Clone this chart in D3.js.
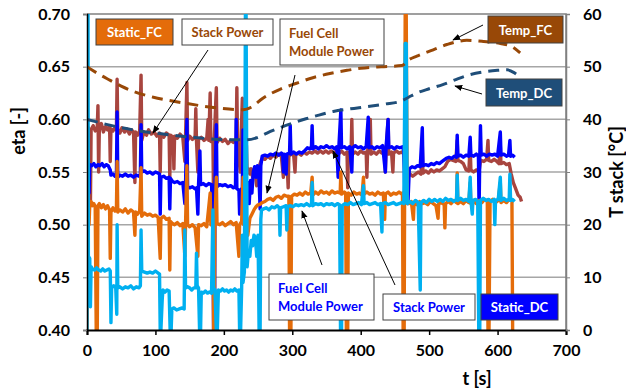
<!DOCTYPE html>
<html>
<head>
<meta charset="utf-8">
<script src="https://cdn.jsdelivr.net/npm/d3@7"></script>
<style>
  html, body { margin: 0; padding: 0; background: #fff; }
  svg { display: block; font-family: Lato, "Open Sans", sans-serif; }
</style>
</head>
<body>
<svg id="chart" width="626" height="391"></svg>
<script>
// ---- axis ticks ----
const etaTicks = [0.40, 0.45, 0.50, 0.55, 0.60, 0.65, 0.70];
const tempTicks = [0, 10, 20, 30, 40, 50, 60];
const timeTicks = [0, 100, 200, 300, 400, 500, 600, 700];

// ---- efficiency series [t (s), eta] ----
const stackPowerFC = [
  [1,0.56],[2,0.592],[4,0.588],[5,0.52],[6,0.59],[9,0.594],[12,0.589],[15,0.592],[16,0.613],[17,0.55],[18,0.59],
  [21,0.596],[24,0.588],[27,0.593],[30,0.59],[33,0.594],[34,0.56],[35,0.591],[38,0.589],[41,0.592],[43,0.59],
  [44,0.638],[45,0.59],[48,0.587],[51,0.592],[55,0.588],[58,0.591],[62,0.586],[65,0.59],[68,0.588],[70,0.54],
  [71,0.588],[74,0.585],[77,0.589],[79,0.642],[80,0.58],[83,0.588],[87,0.585],[90,0.59],[94,0.586],[98,0.588],
  [102,0.584],[106,0.587],[107,0.55],[108,0.586],[112,0.583],[116,0.587],[120,0.585],[121,0.545],[122,0.585],
  [126,0.583],[127,0.553],[128,0.584],[132,0.582],[136,0.586],[140,0.583],[143,0.56],[144,0.583],[146,0.635],
  [147,0.58],[150,0.584],[154,0.581],[158,0.583],[159,0.61],[160,0.58],[162,0.55],[163,0.581],[167,0.583],
  [171,0.58],[175,0.582],[177,0.6],[178,0.58],[180,0.625],[181,0.579],[184,0.581],[185,0.52],[186,0.58],[189,0.63],
  [190,0.578],[194,0.582],[198,0.579],[202,0.581],[206,0.577],[210,0.58],[214,0.578],[218,0.581],[219,0.63],
  [220,0.577],[224,0.55],[225,0.578],[227,0.62],[228,0.576],[231,0.578],[233,0.575],[234,0.55],[236,0.553],
  [238,0.548],[240,0.553],[242,0.545],[244,0.552],[246,0.548],[248,0.537],[250,0.55],[252,0.556],[254,0.56],
  [256,0.563],[260,0.562],[264,0.565],[268,0.563],[272,0.566],[276,0.564],[280,0.567],[284,0.565],[287,0.545],
  [288,0.566],[292,0.564],[294,0.535],[295,0.565],[298,0.567],[302,0.566],[304,0.55],[305,0.567],[309,0.568],
  [313,0.566],[317,0.569],[321,0.567],[325,0.569],[329,0.568],[333,0.57],[337,0.568],[341,0.57],[345,0.568],
  [349,0.57],[353,0.568],[357,0.57],[361,0.568],[365,0.57],[369,0.568],[372,0.57],[376,0.567],[380,0.569],
  [381,0.535],[382,0.568],[386,0.57],[387,0.60],[388,0.567],[392,0.569],[396,0.567],[400,0.57],[404,0.568],
  [408,0.569],[409,0.545],[410,0.568],[414,0.60],[415,0.567],[419,0.569],[423,0.567],[427,0.57],[431,0.568],
  [435,0.569],[436,0.55],[437,0.568],[440,0.60],[441,0.567],[445,0.569],[447,0.55],[448,0.568],[452,0.57],
  [456,0.568],[460,0.569],[463,0.567],[465,0.54],[468,0.545],[472,0.548],[476,0.546],[480,0.548],[484,0.55],
  [488,0.548],[490,0.575],[491,0.549],[495,0.551],[499,0.549],[503,0.552],[507,0.55],[511,0.552],[515,0.551],
  [519,0.553],[523,0.555],[527,0.56],[531,0.562],[535,0.561],[539,0.56],[541,0.58],[542,0.561],[546,0.56],
  [550,0.558],[554,0.552],[558,0.551],[560,0.575],[561,0.552],[565,0.55],[569,0.552],[573,0.551],[575,0.56],
  [576,0.561],[580,0.56],[584,0.562],[586,0.58],[587,0.561],[591,0.56],[595,0.562],[599,0.56],[602,0.558],
  [604,0.575],[605,0.558],[609,0.559],[613,0.557],[617,0.558],[620,0.548],[623,0.54],[626,0.535],[630,0.528],
  [633,0.526],[635,0.522]
];

const stackPowerDC = [
  [0.5,0.50],[1.5,0.556],[3,0.53],[4,0.557],[7,0.556],[10,0.558],[13,0.555],[16,0.557],[19,0.556],[22,0.558],
  [25,0.555],[28,0.557],[31,0.556],[34,0.552],[35,0.547],[38,0.548],[41,0.546],[43,0.547],[44,0.607],[45,0.545],
  [48,0.547],[52,0.546],[56,0.548],[60,0.546],[64,0.547],[68,0.545],[72,0.547],[76,0.546],[78,0.548],[79,0.595],
  [80,0.55],[84,0.551],[88,0.549],[92,0.55],[96,0.548],[100,0.55],[104,0.549],[106,0.548],[107,0.51],[108,0.545],
  [112,0.546],[116,0.544],[120,0.545],[121,0.515],[122,0.544],[125,0.541],[128,0.54],[132,0.541],[136,0.539],
  [140,0.54],[143,0.52],[144,0.538],[146,0.60],[147,0.536],[150,0.535],[154,0.536],[158,0.534],[160,0.535],
  [162,0.51],[163,0.538],[165,0.57],[166,0.538],[170,0.539],[174,0.537],[178,0.539],[182,0.538],[184,0.50],
  [185,0.40],[186.5,0.40],[187,0.537],[189,0.595],[190,0.536],[194,0.538],[198,0.537],[202,0.538],[206,0.536],
  [210,0.537],[214,0.535],[217,0.536],[218,0.60],[219,0.534],[222,0.533],[223,0.51],[224,0.532],[227,0.535],
  [228,0.59],[229,0.53],[231,0.531],[233,0.525],[235,0.54],[237,0.52],[239,0.542],[241,0.53],[243,0.55],
  [245,0.555],[247,0.545],[249,0.556],[251,0.55],[253,0.515],[254,0.556],[256,0.565],[260,0.566],[264,0.565],
  [268,0.567],[272,0.566],[276,0.568],[280,0.566],[284,0.568],[286,0.567],[287,0.55],[288,0.567],[290,0.566],
  [291,0.548],[292,0.567],[296,0.568],[297,0.594],[298,0.567],[302,0.569],[306,0.567],[310,0.569],[314,0.568],
  [318,0.57],[322,0.573],[326,0.572],[328,0.574],[329,0.594],[330,0.572],[334,0.574],[338,0.572],[342,0.574],
  [346,0.573],[350,0.575],[354,0.573],[358,0.574],[362,0.572],[365,0.574],[367,0.545],[368,0.573],[371,0.609],
  [372,0.573],[376,0.574],[380,0.572],[384,0.574],[387,0.55],[388,0.573],[392,0.575],[396,0.573],[400,0.574],
  [404,0.572],[408,0.574],[411,0.602],[412,0.573],[416,0.574],[420,0.572],[424,0.574],[428,0.573],[432,0.575],
  [436,0.55],[437,0.573],[440,0.60],[441,0.573],[445,0.574],[449,0.572],[453,0.574],[457,0.573],[461,0.574],
  [463,0.57],[465,0.52],[467,0.53],[469,0.52],[471,0.553],[475,0.555],[479,0.554],[483,0.556],[487,0.555],
  [490,0.592],[491,0.556],[495,0.557],[499,0.556],[503,0.558],[507,0.557],[511,0.559],[515,0.558],[519,0.56],
  [521,0.561],[525,0.563],[529,0.564],[533,0.563],[537,0.565],[540,0.564],[541,0.585],[542,0.565],[546,0.566],
  [550,0.564],[554,0.566],[558,0.565],[560,0.583],[561,0.566],[565,0.565],[569,0.567],[572,0.565],[573,0.515],
  [574,0.565],[575,0.594],[576,0.566],[580,0.567],[584,0.565],[588,0.567],[592,0.566],[596,0.567],[600,0.565],
  [604,0.588],[605,0.566],[609,0.567],[613,0.565],[616,0.566],[618,0.58],[619,0.565],[622,0.566],[625,0.564]
];

const modulePowerFC = [
  [0,0.40],[0.5,0.52],[2,0.515],[3,0.50],[4,0.519],[6,0.522],[8,0.518],[10,0.52],[12,0.517],[13.5,0.40],
  [15,0.40],[16,0.518],[18,0.52],[21,0.516],[24,0.519],[27,0.515],[30,0.518],[33,0.514],[34,0.468],[35,0.512],
  [38,0.516],[41,0.513],[43,0.515],[44,0.56],[45,0.512],[48,0.514],[52,0.512],[56,0.515],[60,0.511],[64,0.514],
  [68,0.512],[70,0.49],[71,0.512],[74,0.51],[77,0.513],[79,0.554],[80,0.508],[84,0.511],[88,0.509],[92,0.51],
  [96,0.508],[100,0.509],[104,0.507],[107,0.468],[108,0.506],[112,0.508],[116,0.505],[120,0.506],[121,0.457],
  [122,0.503],[125,0.501],[128,0.50],[132,0.502],[136,0.499],[140,0.501],[143,0.47],[144,0.50],[146,0.556],
  [147,0.50],[150,0.498],[154,0.50],[158,0.497],[162,0.47],[163,0.50],[167,0.499],[171,0.501],[175,0.498],
  [180,0.53],[181,0.50],[184,0.499],[185,0.40],[186,0.40],[187,0.50],[189,0.545],[190,0.501],[194,0.50],
  [198,0.502],[202,0.499],[206,0.501],[210,0.503],[214,0.50],[218,0.502],[222,0.47],[223,0.50],[226,0.503],
  [228,0.545],[229,0.50],[232,0.505],[235,0.49],[238,0.506],[241,0.51],[244,0.514],[247,0.517],[250,0.519],
  [252,0.519],[256,0.521],[260,0.522],[264,0.524],[268,0.525],[272,0.523],[276,0.526],[280,0.527],[284,0.525],
  [288,0.528],[292,0.527],[295,0.527],[296,0.40],[298,0.40],[299,0.527],[303,0.529],[307,0.528],[311,0.53],
  [315,0.528],[319,0.531],[323,0.529],[327,0.53],[329,0.545],[330,0.528],[334,0.531],[338,0.529],[342,0.532],
  [346,0.53],[350,0.531],[354,0.529],[358,0.532],[362,0.53],[366,0.531],[370,0.53],[371,0.55],[372,0.529],
  [376,0.531],[378,0.53],[379,0.40],[381,0.40],[382,0.53],[386,0.528],[390,0.531],[394,0.529],[398,0.53],
  [402,0.528],[404,0.545],[405,0.529],[409,0.531],[413,0.529],[417,0.53],[421,0.528],[425,0.531],[429,0.529],
  [433,0.53],[435,0.505],[436,0.529],[440,0.531],[444,0.528],[448,0.53],[452,0.529],[456,0.531],[460,0.529],
  [461,0.53],[462,0.40],[463.5,0.40],[465,0.70],[466.5,0.70],[468,0.52],[470,0.52],[474,0.522],[477,0.505],
  [478,0.521],[482,0.519],[486,0.522],[490,0.52],[494,0.521],[498,0.519],[502,0.522],[506,0.52],[510,0.518],
  [513,0.506],[514,0.52],[518,0.521],[522,0.519],[523,0.497],[524,0.52],[528,0.522],[532,0.52],[536,0.523],
  [540,0.521],[541,0.549],[542,0.52],[546,0.522],[550,0.52],[554,0.523],[558,0.521],[560,0.54],[561,0.52],
  [565,0.522],[569,0.52],[573,0.523],[577,0.521],[581,0.524],[585,0.522],[586,0.40],[587.5,0.40],[589,0.522],
  [593,0.524],[597,0.521],[601,0.523],[604,0.54],[605,0.521],[609,0.523],[613,0.521],[617,0.524],[621,0.522],
  [622,0.40],[624,0.40]
];

const modulePowerDC = [
  [0,0.40],[0.5,0.70],[1.5,0.70],[2,0.47],[4,0.468],[5,0.422],[6,0.46],[8,0.458],[11,0.457],[14,0.459],
  [17,0.457],[20,0.456],[23,0.458],[26,0.456],[29,0.457],[32,0.458],[34,0.456],[35,0.407],[36,0.44],[39,0.442],
  [42,0.44],[43.5,0.415],[44,0.50],[45,0.44],[48,0.441],[52,0.439],[56,0.441],[60,0.44],[64,0.442],[68,0.439],
  [72,0.441],[76,0.44],[78,0.442],[79,0.495],[80,0.456],[84,0.455],[88,0.454],[92,0.455],[96,0.454],[100,0.456],
  [104,0.454],[106,0.453],[107,0.40],[108,0.40],[110,0.43],[111,0.438],[114,0.436],[117,0.438],[120,0.437],
  [121.5,0.40],[123,0.40],[124,0.42],[127,0.421],[131,0.419],[135,0.42],[139,0.421],[142,0.42],[143,0.495],
  [144,0.44],[147,0.441],[150,0.44],[153,0.438],[156,0.44],[159,0.44],[160,0.473],[161,0.442],[163,0.44],
  [164.5,0.40],[166,0.40],[167,0.436],[170,0.435],[173,0.437],[176,0.435],[179,0.436],[182,0.435],[184,0.514],
  [185,0.44],[187,0.438],[189,0.40],[190.5,0.40],[192,0.438],[195,0.437],[198,0.439],[201,0.437],[204,0.438],
  [207,0.436],[210,0.438],[213,0.437],[216,0.439],[219,0.437],[222,0.438],[223,0.40],[224.5,0.40],[226,0.44],
  [227,0.49],[228,0.445],[230,0.455],[231.5,0.70],[232.5,0.70],[234,0.46],[236,0.475],[238,0.47],[240,0.485],
  [242,0.48],[244,0.49],[246,0.488],[248,0.47],[250,0.49],[251.5,0.40],[253,0.40],[254,0.505],[255,0.514],
  [258,0.515],[262,0.516],[266,0.514],[270,0.517],[274,0.516],[278,0.518],[281,0.516],[282,0.49],[283,0.516],
  [287,0.517],[291,0.518],[292,0.495],[293,0.517],[297,0.518],[301,0.517],[305,0.519],[309,0.518],[313,0.519],
  [317,0.518],[321,0.52],[325,0.518],[328,0.519],[329,0.54],[330,0.518],[334,0.52],[338,0.519],[342,0.52],
  [346,0.518],[350,0.52],[354,0.519],[358,0.52],[362,0.518],[366,0.52],[369,0.519],[370.5,0.40],[372,0.40],
  [373,0.518],[377,0.52],[381,0.519],[385,0.521],[389,0.519],[393,0.52],[397,0.521],[401,0.519],[404,0.537],
  [405,0.52],[409,0.521],[413,0.519],[417,0.52],[421,0.521],[425,0.519],[429,0.52],[431,0.493],[432,0.52],
  [436,0.521],[440,0.519],[444,0.52],[448,0.521],[452,0.519],[456,0.52],[460,0.521],[463,0.52],[465,0.672],
  [466.5,0.672],[468,0.52],[472,0.522],[476,0.52],[480,0.523],[484,0.521],[487,0.438],[488,0.521],[492,0.523],
  [496,0.521],[500,0.524],[504,0.522],[508,0.524],[512,0.522],[516,0.524],[520,0.522],[524,0.525],[528,0.523],
  [532,0.524],[536,0.522],[540,0.524],[541,0.547],[542,0.523],[546,0.525],[550,0.523],[554,0.524],[558,0.522],
  [560,0.545],[561,0.523],[563,0.51],[564,0.523],[568,0.524],[571,0.522],[572.5,0.40],[574,0.40],[575,0.523],
  [579,0.525],[583,0.523],[587,0.524],[591,0.522],[595,0.524],[596,0.50],[597,0.523],[601,0.524],[604,0.545],
  [605,0.523],[609,0.525],[613,0.523],[617,0.524],[618,0.548],[619,0.523],[622,0.524],[625,0.522]
];

// ---- stack temperatures [t (s), °C] ----
const tempFC = [
  [0,50.0],[17,48.6],[34,47.4],[50,46.3],[68,45.3],[97,44.2],[120,43.6],[146,43.0],[170,42.5],[194,42.1],
  [228,41.8],[240,42.3],[257,44.0],[282,45.7],[305,46.8],[330,47.9],[355,48.7],[380,49.3],[400,49.7],
  [430,50.0],[460,50.2],[470,51.3],[482,52.0],[506,53.2],[526,54.2],[555,55.0],[579,54.8],[604,54.4],
  [618,54.0],[633,52.6]
];
const tempDC = [
  [0,40.0],[30,39.0],[67,38.0],[100,37.4],[146,36.7],[180,36.3],[214,36.1],[233,36.1],[248,36.5],[263,37.4],
  [280,38.3],[301,39.3],[320,40.1],[336,40.7],[360,41.5],[385,42.0],[409,42.4],[435,42.9],[458,43.4],
  [470,44.2],[482,45.0],[500,45.8],[520,46.6],[540,47.6],[555,48.3],[579,49.0],[600,49.3],[614,49.4],
  [625,48.8],[633,48.0]
];

// ---- layout ----
const svg = d3.select("#chart");
const plot = { left: 87, right: 566, top: 14, bottom: 330 };

const x = d3.scaleLinear().domain([0, 700]).range([plot.left, plot.right]);
const yEta = d3.scaleLinear().domain([0.40, 0.70]).range([plot.bottom, plot.top]);
const yTemp = d3.scaleLinear().domain([0, 60]).range([plot.bottom, plot.top]);

const colors = {
  stackFC: "#A8453F",
  stackDC: "#0000FF",
  moduleFC: "#E46C0A",
  moduleDC: "#00B0F0",
  tempFC: "#984807",
  tempDC: "#1F4E79"
};

const defs = svg.append("defs");
defs.append("clipPath").attr("id", "plot-clip")
  .append("rect")
  .attr("x", plot.left).attr("y", plot.top)
  .attr("width", plot.right - plot.left).attr("height", plot.bottom - plot.top);

defs.append("marker")
  .attr("id", "arrow")
  .attr("viewBox", "0 0 10 10")
  .attr("refX", 9).attr("refY", 5)
  .attr("markerWidth", 8).attr("markerHeight", 8)
  .attr("markerUnits", "userSpaceOnUse")
  .attr("orient", "auto")
  .append("path").attr("d", "M0,1 L10,5 L0,9 Z").attr("fill", "#000");

// horizontal gridlines
svg.append("g").selectAll("line")
  .data(etaTicks.filter(d => d > 0.40 && d < 0.70))
  .join("line")
  .attr("x1", plot.left).attr("x2", plot.right)
  .attr("y1", d => yEta(d)).attr("y2", d => yEta(d))
  .attr("stroke", "#A6A6A6").attr("stroke-width", 1.5);

// plot frame (top and right)
svg.append("path")
  .attr("d", `M${plot.left},${plot.top}H${plot.right}V${plot.bottom}`)
  .attr("fill", "none").attr("stroke", "#808080").attr("stroke-width", 1.5);

// data lines
const etaLine = d3.line().x(d => x(d[0])).y(d => yEta(d[1]));
const tempLine = d3.line().x(d => x(d[0])).y(d => yTemp(d[1])).curve(d3.curveMonotoneX);

const dataLayer = svg.append("g").attr("clip-path", "url(#plot-clip)");
[
  [stackPowerFC, colors.stackFC],
  [stackPowerDC, colors.stackDC],
  [modulePowerFC, colors.moduleFC],
  [modulePowerDC, colors.moduleDC]
].forEach(([data, color]) => {
  dataLayer.append("path")
    .datum(data)
    .attr("d", etaLine)
    .attr("fill", "none")
    .attr("stroke", color)
    .attr("stroke-width", 3.4)
    .attr("stroke-linejoin", "round");
});

[
  [tempFC, colors.tempFC],
  [tempDC, colors.tempDC]
].forEach(([data, color]) => {
  dataLayer.append("path")
    .datum(data)
    .attr("d", tempLine)
    .attr("fill", "none")
    .attr("stroke", color)
    .attr("stroke-width", 3)
    .attr("stroke-dasharray", "11,7");
});

// axes
const tickFont = g => g.selectAll("text")
  .attr("font-family", "Lato, sans-serif")
  .attr("font-weight", "bold")
  .attr("font-size", "16px")
  .attr("fill", "#000");

const xAxis = svg.append("g")
  .attr("transform", `translate(0,${plot.bottom})`)
  .call(d3.axisBottom(x).tickValues(timeTicks).tickFormat(d3.format("d")).tickSizeOuter(0).tickSize(5).tickPadding(10));
xAxis.select(".domain").attr("stroke", "#000").attr("stroke-width", 2);
xAxis.selectAll(".tick line").attr("stroke", "#000").attr("stroke-width", 1.5);
xAxis.call(tickFont);

const yAxisL = svg.append("g")
  .attr("transform", `translate(${plot.left},0)`)
  .call(d3.axisLeft(yEta).tickValues(etaTicks).tickFormat(d3.format(".2f")).tickSizeOuter(0).tickSize(4).tickPadding(13));
yAxisL.select(".domain").attr("stroke", "#000").attr("stroke-width", 1.5);
yAxisL.selectAll(".tick line").attr("stroke", "#808080");
yAxisL.call(tickFont);

const yAxisR = svg.append("g")
  .attr("transform", `translate(${plot.right},0)`)
  .call(d3.axisRight(yTemp).tickValues(tempTicks).tickFormat(d3.format("d")).tickSizeOuter(0).tickSize(4).tickPadding(13));
yAxisR.select(".domain").attr("stroke", "#808080").attr("stroke-width", 1.5);
yAxisR.selectAll(".tick line").attr("stroke", "#808080");
yAxisR.call(tickFont);

// axis titles
const titleStyle = sel => sel
  .attr("font-family", "Lato, sans-serif")
  .attr("font-weight", "bold")
  .attr("font-size", "18px")
  .attr("fill", "#000")
  .attr("text-anchor", "middle")
  .attr("dominant-baseline", "central");

svg.append("text").call(titleStyle)
  .attr("transform", "translate(18,131) rotate(-90)")
  .text("eta [-]");
svg.append("text").call(titleStyle)
  .attr("transform", "translate(616,172) rotate(-90)")
  .text("T stack [°C]");
svg.append("text").call(titleStyle)
  .attr("x", 477).attr("y", 378)
  .text("t [s]");

// annotation arrows
const arrows = [
  [[208, 50], [153, 133]],
  [[295, 75], [267, 193]],
  [[483, 25], [453, 40]],
  [[482, 94], [455, 86]],
  [[322, 265], [302, 211]],
  [[395, 285], [333, 151]]
];
svg.append("g").selectAll("line")
  .data(arrows)
  .join("line")
  .attr("x1", d => d[0][0]).attr("y1", d => d[0][1])
  .attr("x2", d => d[1][0]).attr("y2", d => d[1][1])
  .attr("stroke", "#000").attr("stroke-width", 1)
  .attr("marker-end", "url(#arrow)");

// annotation boxes
const boxes = [
  { x: 96,  y: 19,  w: 77,  h: 26, fill: colors.moduleFC, color: "#fff", lines: ["Static_FC"], anchor: "middle" },
  { x: 182, y: 19,  w: 91,  h: 26, fill: "#fff", color: colors.tempFC, lines: ["Stack Power"], anchor: "middle" },
  { x: 280, y: 19,  w: 104, h: 46, fill: "#fff", color: colors.tempFC, lines: ["Fuel Cell", "Module Power"], anchor: "start" },
  { x: 488, y: 16,  w: 75,  h: 27, fill: colors.tempFC, color: "#fff", lines: ["Temp_FC"], anchor: "middle" },
  { x: 486, y: 79,  w: 76,  h: 27, fill: colors.tempDC, color: "#fff", lines: ["Temp_DC"], anchor: "middle" },
  { x: 269, y: 274, w: 105, h: 46, fill: "#fff", color: colors.stackDC, lines: ["Fuel Cell", "Module Power"], anchor: "start" },
  { x: 383, y: 294, w: 92,  h: 26, fill: "#fff", color: colors.stackDC, lines: ["Stack Power"], anchor: "middle" },
  { x: 481, y: 294, w: 77,  h: 26, fill: colors.stackDC, color: "#fff", lines: ["Static_DC"], anchor: "middle" }
];
const boxG = svg.append("g").selectAll("g").data(boxes).join("g");
boxG.append("rect")
  .attr("x", d => d.x).attr("y", d => d.y)
  .attr("width", d => d.w).attr("height", d => d.h)
  .attr("fill", d => d.fill)
  .attr("stroke", "#404040").attr("stroke-width", 1);
boxG.each(function (d) {
  const g = d3.select(this);
  const n = d.lines.length;
  d.lines.forEach((line, i) => {
    g.append("text")
      .attr("x", d.anchor === "start" ? d.x + 9 : d.x + d.w / 2)
      .attr("y", d.y + d.h / 2 + (i - (n - 1) / 2) * 18)
      .attr("text-anchor", d.anchor)
      .attr("dominant-baseline", "central")
      .attr("font-family", "Lato, sans-serif")
      .attr("font-weight", "bold")
      .attr("font-size", "13px")
      .attr("fill", d.color)
      .text(line);
  });
});
</script>
</body>
</html>
